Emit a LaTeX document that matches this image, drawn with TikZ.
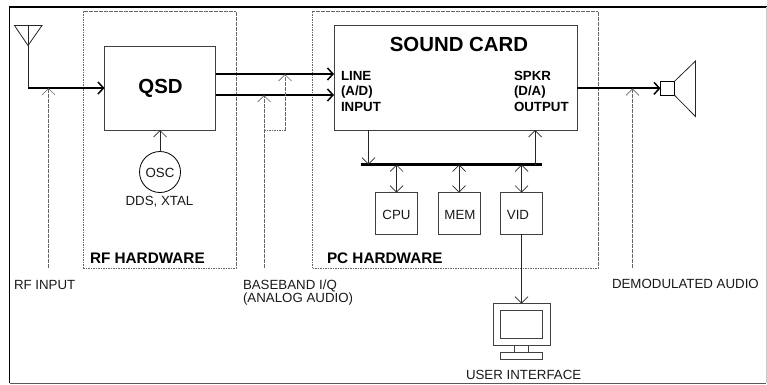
\documentclass[tikz,border=0pt]{standalone}
\usepackage{fontspec}
\setmainfont{Liberation Sans}
\usetikzlibrary{arrows.meta}
\tikzset{
  x=1pt,y=-1pt,
  box/.style={draw=black!75,line width=.8pt,inner sep=0,outer sep=0,fill=white},
  thin line/.style={draw=black!85,line width=.8pt},
  thick line/.style={draw=black,line width=1.7pt},
  bar/.style={draw=black,line width=3.6pt},
  dotted line/.style={draw=black!60,line width=.6pt,dash pattern=on 1.6pt off .9pt},
  tipthin/.style={-{Straight Barb[length=6.5pt,width=13pt,line width=.7pt]}},
  tipboth/.style={{Straight Barb[length=6.5pt,width=13pt,line width=.7pt]}-{Straight Barb[length=6.5pt,width=13pt,line width=.7pt]}},
  tipthick/.style={-{Straight Barb[length=5.5pt,width=12pt,line width=1.5pt]}},
  label/.style={inner sep=0,outer sep=0,font=\fontsize{13.3}{13.3}\selectfont,text=black!90},
  boldlabel/.style={inner sep=0,outer sep=0,font=\fontsize{13.3}{15.5}\selectfont\bfseries,align=left},
  heading/.style={inner sep=0,outer sep=0,font=\fontsize{20.4}{20.4}\selectfont\bfseries},
  section/.style={inner sep=0,outer sep=0,font=\fontsize{15.3}{15.3}\selectfont\bfseries},
}
\begin{document}
\begin{tikzpicture}
\useasboundingbox (0,0) rectangle (767,384);
% outer frame
\draw[black,line width=1.8pt] (9.5,383) -- (9.5,7) -- (767,7);
\draw[black!65,line width=.9pt] (9.5,383) -- (766,383);
\draw[black!20,line width=.9pt] (766,7) -- (766,383);
% dashed regions
\node[dotted line,draw,inner sep=0,minimum width=153pt,minimum height=256.5pt] (rfhw) at (159.5,139.75) {};
\node[dotted line,draw,inner sep=0,minimum width=285.5pt,minimum height=256.5pt] (pchw) at (455.25,139.75) {};
% boxes
\node[box,minimum width=111pt,minimum height=83.5pt] (qsd) at (160,88.25) {};
\node[box,minimum width=243pt,minimum height=104.5pt] (sound) at (455.5,77.75) {};
\node[box,minimum width=42pt,minimum height=41.5pt] (cpu) at (396.5,213.25) {};
\node[box,minimum width=42pt,minimum height=41.5pt] (mem) at (459,213.25) {};
\node[box,minimum width=42pt,minimum height=41.5pt] (vid) at (521.5,213.25) {};
\node[box,draw=black,circle,minimum size=41pt] (osc) at (160,172) {};
% monitor
\node[box,minimum width=56.5pt,minimum height=41.5pt] (mon) at (521.75,324.25) {};
\node[box,minimum width=42pt,minimum height=28pt] (screen) at (521.5,324.5) {};
\node[box,minimum width=14pt,minimum height=7pt,anchor=north] (neck) at (521.5,345) {};
\node[box,minimum width=42pt,minimum height=7pt,anchor=north] (base) at (521.5,352) {};
% speaker
\node[box,draw=black,minimum width=14pt,minimum height=14pt] (spk) at (667.5,88.3) {};
\coordinate (coneT) at (695.5,61);
\coordinate (coneB) at (695.5,116.5);
\draw[thin line] (spk.north east) -- (coneT) -- (coneB) -- (spk.south east);
% antenna
\coordinate (antL) at (14.5,25.5);
\coordinate (antR) at (42,25.5);
\coordinate (antT) at (28,45.5);
\coordinate (antC) at (28,25.5);
\coordinate (antJ) at (28,88);
\draw[thin line] (antL) -- (antR) -- (antT) -- cycle;
\draw[thin line] (antC) -- (antJ);
\draw[thick line,tipthick] (antJ) -- (qsd.west |- antJ);
% bus
\coordinate (busL) at (361,164.5);
\coordinate (busR) at (541.5,164.5);
\draw[bar] (busL) -- (busR);
% QSD to sound card
\coordinate (iy) at (300,74);
\coordinate (qy) at (300,95);
\draw[thick line,tipthick] (qsd.east |- iy) -- (sound.west |- iy);
\draw[thick line,tipthick] (qsd.east |- qy) -- (sound.west |- qy);
% sound out
\coordinate (outy) at (600,88.3);
\draw[thick line,tipthick] (sound.east |- outy) -- (spk.west);
% thin arrows
\draw[thin line,tipthin] (osc.north) -- (qsd.south);
\coordinate (sL) at (368.5,130);
\coordinate (sR) at (535,130);
\draw[thin line,tipthin] (sL) -- (sL |- busL);
\draw[thin line,tipthin] (sR |- busL) -- (sR);
\draw[thin line,tipboth] (cpu.north |- busL) -- (cpu.north);
\draw[thin line,tipboth] (mem.north |- busL) -- (mem.north);
\draw[thin line,tipboth] (vid.north |- busL) -- (vid.north);
\draw[thin line,tipthin] (vid.south) -- (mon.north -| vid.south);
% dotted pointers
\coordinate (pRF) at (48.5,268);
\coordinate (pBB) at (264,268);
\coordinate (pBBk) at (264,130);
\coordinate (pBBr) at (285,130);
\coordinate (pDA) at (632.5,268);
\draw[dotted line,tipthin] (pRF) -- (pRF |- antJ);
\draw[dotted line,tipthin] (pBB) -- (pBB |- qy);
\draw[dotted line,tipthin] (pBBk) -- (pBBr) -- (pBBr |- iy);
\draw[dotted line,tipthin] (pDA) -- (pDA |- outy);
% texts
\node[heading,anchor=base] (qsdt) at (160.5,93) {QSD};
\node[heading,anchor=base] (soundt) at (459,51.7) {SOUND CARD};
\node[boldlabel,anchor=base west] (linet) at (341,111) {LINE\\(A/D)\\INPUT};
\node[boldlabel,anchor=base west] (spkrt) at (514,111) {SPKR\\(D/A)\\OUTPUT};
\node[label,anchor=base] (osct) at (160,177) {OSC};
\node[label,anchor=base] (ddst) at (159.5,205) {DDS, XTAL};
\node[label,anchor=base] (cput) at (396.5,219) {CPU};
\node[label,anchor=base] (memt) at (460,219) {MEM};
\node[label,anchor=base] (vidt) at (518,219) {VID};
\node[section,anchor=base west] (rft) at (90,263) {RF HARDWARE};
\node[section,anchor=base west] (pct) at (327,263) {PC HARDWARE};
\node[label,anchor=base west] (rfin) at (14,289) {RF INPUT};
\node[label,anchor=base west] (bb1) at (243,289) {BASEBAND I/Q};
\node[label,anchor=base west] (bb2) at (243,302) {(ANALOG AUDIO)};
\node[label,anchor=base west] (demod) at (612,288.7) {DEMODULATED AUDIO};
\node[label,anchor=base west] (uit) at (466,379) {USER INTERFACE};
\end{tikzpicture}
\end{document}
